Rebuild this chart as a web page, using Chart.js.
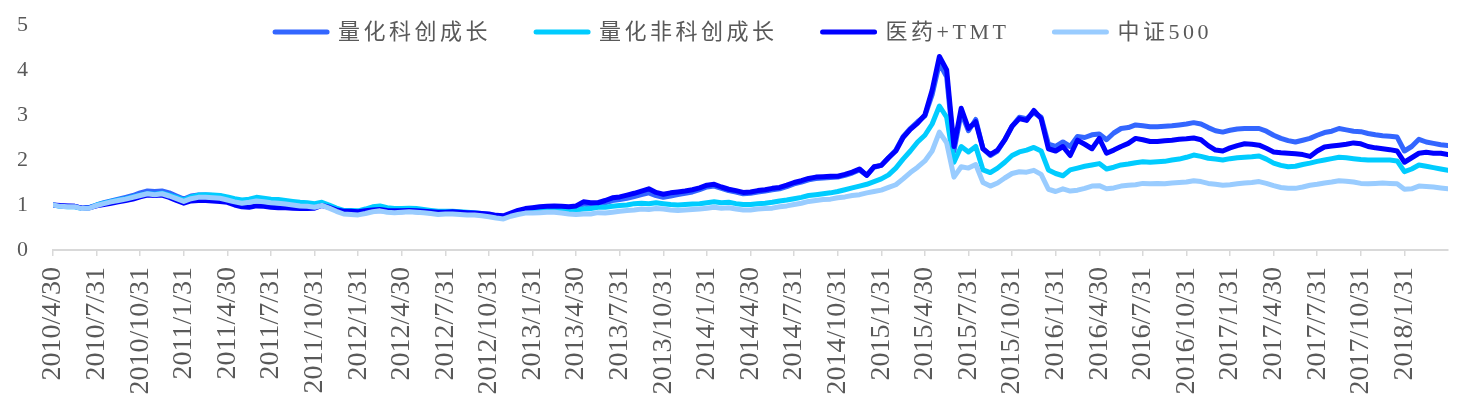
<!DOCTYPE html>
<html>
<head>
<meta charset="utf-8">
<script src="https://cdn.jsdelivr.net/npm/chart.js@4/dist/chart.umd.min.js"></script>
<style>
  html, body { margin: 0; padding: 0; background: #fff; }
  #wrap { width: 1461px; height: 396px; }
</style>
</head>
<body>
<div id="wrap"><canvas id="navChart" width="1461" height="396"></canvas></div>
<script>
// quarter tick labels (one every 3 months, starting 2010/4/30)
const tickLabels = [
	'2010/4/30', '2010/7/31', '2010/10/31',
	'2011/1/31', '2011/4/30', '2011/7/31', '2011/10/31',
	'2012/1/31', '2012/4/30', '2012/7/31', '2012/10/31',
	'2013/1/31', '2013/4/30', '2013/7/31', '2013/10/31',
	'2014/1/31', '2014/4/30', '2014/7/31', '2014/10/31',
	'2015/1/31', '2015/4/30', '2015/7/31', '2015/10/31',
	'2016/1/31', '2016/4/30', '2016/7/31', '2016/10/31',
	'2017/1/31', '2017/4/30', '2017/7/31', '2017/10/31',
	'2018/1/31'
];

const seriesNames = ['量化科创成长', '量化非科创成长', '医药+TMT', '中证500'];
const seriesColors = ['#3366ff', '#00ccff', '#0000ff', '#99ccff'];

// one value every half month from 2010/4/30, each row = 6 months
const kechuang = [
	1.00, 0.98, 0.97, 0.97, 0.93, 0.94, 1.00, 1.05, 1.09, 1.13, 1.17, 1.21,
	1.27, 1.31, 1.30, 1.31, 1.27, 1.20, 1.13, 1.20, 1.22, 1.22, 1.21, 1.20,
	1.15, 1.10, 1.07, 1.08, 1.11, 1.09, 1.07, 1.06, 1.04, 1.02, 0.99, 0.98,
	0.97, 1.01, 0.95, 0.88, 0.83, 0.82, 0.81, 0.84, 0.87, 0.88, 0.86, 0.85,
	0.85, 0.86, 0.85, 0.84, 0.83, 0.82, 0.82, 0.83, 0.82, 0.81, 0.80, 0.79,
	0.77, 0.74, 0.72, 0.78, 0.85, 0.89, 0.91, 0.93, 0.94, 0.95, 0.94, 0.93,
	0.95, 1.02, 1.00, 1.01, 1.05, 1.10, 1.12, 1.15, 1.19, 1.23, 1.27, 1.21,
	1.17, 1.20, 1.23, 1.26, 1.29, 1.34, 1.40, 1.42, 1.37, 1.32, 1.29, 1.25,
	1.26, 1.29, 1.31, 1.34, 1.36, 1.41, 1.47, 1.51, 1.56, 1.59, 1.60, 1.61,
	1.62, 1.66, 1.71, 1.78, 1.66, 1.84, 1.88, 2.05, 2.22, 2.52, 2.70, 2.85,
	2.98, 3.45, 4.15, 3.85, 2.20, 3.05, 2.65, 2.90, 2.25, 2.10, 2.20, 2.45,
	2.75, 2.95, 2.92, 3.05, 2.95, 2.35, 2.30, 2.40, 2.30, 2.52, 2.50, 2.56,
	2.58, 2.45, 2.60, 2.70, 2.72, 2.78, 2.76, 2.74, 2.74, 2.75, 2.76, 2.78,
	2.80, 2.83, 2.80, 2.72, 2.65, 2.62, 2.66, 2.69, 2.70, 2.70, 2.70, 2.64,
	2.55, 2.48, 2.43, 2.40, 2.44, 2.48, 2.55, 2.61, 2.64, 2.70, 2.67, 2.64,
	2.63, 2.59, 2.56, 2.54, 2.53, 2.51, 2.20, 2.30, 2.46, 2.40, 2.37, 2.34,
	2.32
];
const feiKechuang = [
	1.00, 0.97, 0.96, 0.96, 0.92, 0.94, 1.00, 1.04, 1.08, 1.11, 1.14, 1.18,
	1.22, 1.25, 1.24, 1.26, 1.22, 1.17, 1.11, 1.18, 1.22, 1.23, 1.22, 1.21,
	1.18, 1.14, 1.11, 1.13, 1.17, 1.15, 1.13, 1.12, 1.10, 1.08, 1.06, 1.05,
	1.03, 1.06, 1.00, 0.93, 0.88, 0.88, 0.87, 0.91, 0.96, 0.98, 0.94, 0.92,
	0.92, 0.93, 0.92, 0.90, 0.88, 0.86, 0.86, 0.86, 0.85, 0.84, 0.83, 0.81,
	0.79, 0.76, 0.74, 0.80, 0.86, 0.89, 0.90, 0.91, 0.92, 0.92, 0.90, 0.89,
	0.89, 0.91, 0.92, 0.95, 0.95, 0.97, 0.99, 1.00, 1.03, 1.04, 1.03, 1.05,
	1.03, 1.01, 1.00, 1.01, 1.02, 1.03, 1.05, 1.07, 1.05, 1.06, 1.03, 1.01,
	1.01, 1.03, 1.04, 1.06, 1.09, 1.11, 1.14, 1.17, 1.21, 1.23, 1.25, 1.27,
	1.30, 1.34, 1.38, 1.42, 1.46, 1.52, 1.58, 1.67, 1.82, 2.02, 2.20, 2.40,
	2.55, 2.80, 3.20, 2.95, 1.95, 2.30, 2.18, 2.30, 1.78, 1.72, 1.82, 1.95,
	2.10, 2.18, 2.22, 2.28, 2.20, 1.78, 1.70, 1.65, 1.78, 1.82, 1.86, 1.89,
	1.92, 1.80, 1.84, 1.89, 1.91, 1.94, 1.96, 1.95, 1.96, 1.97, 2.00, 2.02,
	2.06, 2.11, 2.08, 2.04, 2.02, 2.00, 2.03, 2.05, 2.06, 2.07, 2.09, 2.02,
	1.93, 1.88, 1.85, 1.86, 1.90, 1.93, 1.97, 2.00, 2.03, 2.06, 2.05, 2.03,
	2.01, 2.00, 2.00, 2.00, 2.00, 1.98, 1.74, 1.80, 1.89, 1.86, 1.83, 1.80,
	1.77
];
const yiyaoTmt = [
	1.00, 0.99, 0.98, 0.97, 0.93, 0.94, 0.98, 1.01, 1.04, 1.07, 1.10, 1.13,
	1.18, 1.22, 1.21, 1.22, 1.17, 1.10, 1.04, 1.09, 1.10, 1.10, 1.09, 1.08,
	1.06, 1.00, 0.96, 0.95, 0.98, 0.97, 0.95, 0.94, 0.94, 0.93, 0.92, 0.92,
	0.93, 0.99, 0.95, 0.89, 0.86, 0.86, 0.85, 0.87, 0.89, 0.90, 0.88, 0.87,
	0.87, 0.88, 0.87, 0.86, 0.85, 0.84, 0.84, 0.85, 0.84, 0.83, 0.82, 0.81,
	0.80, 0.77, 0.76, 0.82, 0.88, 0.92, 0.94, 0.96, 0.97, 0.98, 0.97, 0.96,
	0.98, 1.07, 1.05, 1.05, 1.10, 1.16, 1.18, 1.22, 1.26, 1.31, 1.36, 1.28,
	1.24, 1.27, 1.29, 1.31, 1.34, 1.38, 1.44, 1.46, 1.40, 1.35, 1.32, 1.28,
	1.29, 1.32, 1.34, 1.37, 1.39, 1.44, 1.50, 1.54, 1.59, 1.62, 1.63, 1.64,
	1.64, 1.68, 1.73, 1.80, 1.66, 1.85, 1.88, 2.05, 2.20, 2.50, 2.68, 2.82,
	3.00, 3.55, 4.30, 4.00, 2.30, 3.15, 2.70, 2.85, 2.25, 2.12, 2.22, 2.45,
	2.75, 2.92, 2.88, 3.10, 2.92, 2.25, 2.20, 2.30, 2.10, 2.44, 2.35, 2.25,
	2.48, 2.15, 2.22, 2.30, 2.37, 2.48, 2.45, 2.41, 2.41, 2.43, 2.44, 2.46,
	2.47, 2.49, 2.45, 2.32, 2.22, 2.20, 2.27, 2.32, 2.36, 2.35, 2.33, 2.26,
	2.18, 2.16, 2.15, 2.14, 2.12, 2.08, 2.20, 2.29, 2.31, 2.33, 2.35, 2.38,
	2.36, 2.30, 2.27, 2.25, 2.23, 2.20, 1.95, 2.05, 2.15, 2.17, 2.15, 2.15,
	2.12
];
const csi500 = [
	1.00, 0.97, 0.96, 0.96, 0.92, 0.93, 0.99, 1.03, 1.07, 1.10, 1.13, 1.17,
	1.21, 1.25, 1.23, 1.25, 1.20, 1.14, 1.08, 1.14, 1.17, 1.17, 1.16, 1.15,
	1.11, 1.07, 1.04, 1.06, 1.09, 1.07, 1.05, 1.04, 1.02, 1.00, 0.98, 0.97,
	0.95, 0.99, 0.93, 0.86, 0.80, 0.79, 0.78, 0.81, 0.85, 0.87, 0.84, 0.83,
	0.84, 0.85, 0.84, 0.83, 0.81, 0.79, 0.80, 0.80, 0.79, 0.78, 0.78, 0.76,
	0.74, 0.71, 0.69, 0.75, 0.79, 0.82, 0.82, 0.83, 0.84, 0.84, 0.82, 0.80,
	0.79, 0.80, 0.80, 0.83, 0.82, 0.84, 0.86, 0.88, 0.89, 0.91, 0.90, 0.92,
	0.91, 0.89, 0.88, 0.89, 0.90, 0.91, 0.93, 0.95, 0.93, 0.94, 0.91, 0.89,
	0.89, 0.91, 0.92, 0.93, 0.96, 0.98, 1.01, 1.04, 1.08, 1.10, 1.12, 1.13,
	1.16, 1.18, 1.21, 1.23, 1.27, 1.30, 1.33, 1.39, 1.45, 1.58, 1.72, 1.84,
	1.98, 2.20, 2.62, 2.38, 1.62, 1.85, 1.82, 1.90, 1.50, 1.42, 1.49, 1.60,
	1.70, 1.74, 1.73, 1.77, 1.68, 1.35, 1.30, 1.36, 1.31, 1.33, 1.37, 1.42,
	1.43, 1.36, 1.38, 1.42, 1.44, 1.45, 1.48, 1.47, 1.48, 1.47, 1.49, 1.50,
	1.51, 1.54, 1.52, 1.48, 1.46, 1.44, 1.45, 1.47, 1.49, 1.50, 1.52, 1.48,
	1.43, 1.39, 1.37, 1.37, 1.40, 1.44, 1.46, 1.49, 1.51, 1.54, 1.53, 1.51,
	1.48, 1.47, 1.48, 1.49, 1.48, 1.47, 1.35, 1.36, 1.42, 1.41, 1.40, 1.38,
	1.36
];

const stepMonths = 0.5;
const seriesValues = [kechuang, feiKechuang, yiyaoTmt, csi500];
// later series sit on top in the picture
const drawOrder = [3, 2, 1, 0];

const textColor = '#595959';
const serif = '"Liberation Serif", "Times New Roman", "Noto Sans CJK SC", serif';

function toPoints(values) {
	return values.map((v, i) => ({ x: i * stepMonths, y: v }));
}

// legend drawn across the top of the plot, overlapping it like the original
const topLegend = {
	id: 'topLegend',
	afterDraw(chart) {
		const ctx = chart.ctx;
		const lineLen = 58, gap = 8, itemGap = 42, y = 32;
		ctx.save();
		ctx.font = '22px ' + serif;
		ctx.letterSpacing = '3.5px';
		ctx.textBaseline = 'middle';
		ctx.textAlign = 'left';
		const items = chart.data.datasets.map(ds => ({
			label: ds.label,
			color: ds.borderColor,
			w: ctx.measureText(ds.label).width
		}));
		const total = items.reduce((a, it) => a + lineLen + gap + it.w, 0) + itemGap * (items.length - 1);
		let x = 742 - total / 2;
		items.forEach(it => {
			ctx.strokeStyle = it.color;
			ctx.lineWidth = 5;
			ctx.lineCap = 'round';
			ctx.beginPath();
			ctx.moveTo(x + 3, y);
			ctx.lineTo(x + lineLen - 3, y);
			ctx.stroke();
			ctx.fillStyle = textColor;
			ctx.fillText(it.label, x + lineLen + gap, y + 1);
			x += lineLen + gap + it.w + itemGap;
		});
		ctx.restore();
	}
};

const ctx = document.getElementById('navChart').getContext('2d');

new Chart(ctx, {
	type: 'line',
	data: {
		datasets: seriesNames.map((name, i) => ({
			label: name,
			data: toPoints(seriesValues[i]),
			borderColor: seriesColors[i],
			backgroundColor: seriesColors[i],
			borderWidth: 5,
			pointRadius: 0,
			tension: 0,
			fill: false,
			borderJoinStyle: 'round',
			borderCapStyle: 'round',
			order: drawOrder[i]
		}))
	},
	options: {
		responsive: false,
		maintainAspectRatio: false,
		animation: false,
		devicePixelRatio: 1,
		layout: { padding: { left: 0, right: 13, top: 25, bottom: 0 } },
		plugins: {
			legend: { display: false },
			tooltip: { enabled: false }
		},
		scales: {
			x: {
				type: 'linear',
				min: 0,
				max: 96,
				afterBuildTicks: axis => {
					axis.ticks = tickLabels.map((t, i) => ({ value: i * 3 }));
				},
				afterFit: axis => { axis.height = 146; },
				ticks: {
					autoSkip: false,
					minRotation: 90,
					maxRotation: 90,
					padding: 11,
					color: textColor,
					font: { family: serif, size: 28 },
					callback: (value, index) => tickLabels[index]
				},
				grid: {
					drawOnChartArea: false,
					drawTicks: true,
					tickLength: 6,
					color: '#d9d9d9',
					lineWidth: 1.5
				},
				border: { display: true, color: '#d9d9d9', width: 2 }
			},
			y: {
				min: 0,
				max: 5,
				afterFit: axis => { axis.width = 53; },
				ticks: {
					stepSize: 1,
					padding: 0,
					color: textColor,
					font: { family: serif, size: 22 }
				},
				// tick marks hidden, their length only spaces the labels off the plot
				grid: { display: false, drawTicks: true, tickLength: 25 },
				border: { display: false }
			}
		}
	},
	plugins: [topLegend]
});
</script>
</body>
</html>
